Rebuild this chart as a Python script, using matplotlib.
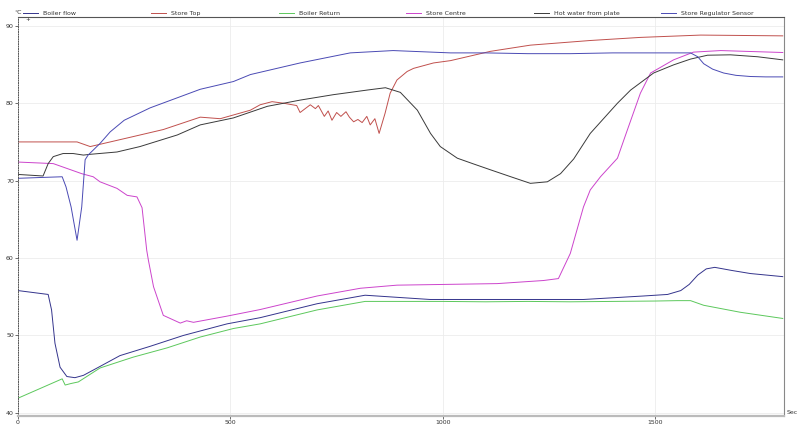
import matplotlib
matplotlib.use("Agg")
import matplotlib.pyplot as plt
from matplotlib.legend import Legend

# ---- data (x in seconds, y in deg C) ----
reg_x = [0, 50, 104, 113, 125, 139, 150, 158, 165, 193, 217, 250, 311, 370, 429,
         507, 547, 664, 782, 883, 1018, 1100, 1200, 1300, 1400, 1500, 1583, 1600,
         1614, 1635, 1661, 1690, 1724, 1760, 1800]
reg_y = [70.3, 70.4, 70.5, 69.2, 66.6, 62.3, 66.6, 72.7, 73.3, 74.8, 76.3, 77.8,
         79.4, 80.6, 81.8, 82.8, 83.7, 85.2, 86.5, 86.8, 86.5, 86.5, 86.4, 86.4,
         86.5, 86.5, 86.5, 86.0, 85.1, 84.4, 83.9, 83.6, 83.45, 83.4, 83.4]

top_x = [0, 139, 170, 272, 342, 429, 476, 547, 570, 598, 625, 656, 664, 688, 700,
         707, 721, 730, 739, 750, 760, 772, 780, 790, 800, 810, 821, 829, 840,
         850, 864, 876, 892, 916, 931, 978, 1018, 1112, 1206, 1347, 1465, 1607, 1800]
top_y = [75.0, 75.0, 74.4, 75.7, 76.6, 78.2, 78.0, 79.1, 79.8, 80.2, 80.0, 79.7,
         78.8, 79.8, 79.3, 79.7, 78.3, 79.0, 77.8, 78.8, 78.3, 78.9, 78.2, 77.6,
         77.9, 77.5, 78.3, 77.2, 78.0, 76.1, 78.7, 81.3, 83.0, 84.1, 84.5, 85.2,
         85.5, 86.7, 87.5, 88.1, 88.5, 88.8, 88.7]

ret_x = [0, 104, 111, 125, 142, 193, 271, 351, 429, 507, 570, 704, 817, 900, 1000,
         1100, 1200, 1300, 1400, 1500, 1552, 1583, 1614, 1700, 1800]
ret_y = [41.9, 44.4, 43.6, 43.8, 44.0, 45.8, 47.2, 48.4, 49.8, 50.9, 51.5, 53.3,
         54.4, 54.4, 54.4, 54.35, 54.4, 54.35, 54.4, 54.45, 54.5, 54.5, 53.9, 53.0,
         52.2]

flow_x = [0, 71, 79, 87, 99, 115, 134, 154, 193, 240, 311, 389, 492, 570, 704, 817,
          900, 970, 1100, 1331, 1472, 1529, 1560, 1580, 1600, 1620, 1640, 1680,
          1724, 1800]
flow_y = [55.8, 55.3, 53.3, 49.0, 45.9, 44.7, 44.55, 44.85, 46.0, 47.4, 48.6, 50.0,
          51.5, 52.3, 54.1, 55.2, 54.9, 54.65, 54.65, 54.65, 55.1, 55.3, 55.8, 56.6,
          57.8, 58.6, 58.8, 58.4, 58.0, 57.6]

ctr_x = [0, 83, 150, 177, 193, 233, 257, 280, 292, 303, 307, 319, 342, 382, 397,
         413, 492, 570, 704, 806, 892, 1128, 1237, 1272, 1300, 1331, 1347, 1371,
         1411, 1434, 1465, 1489, 1543, 1590, 1654, 1800]
ctr_y = [72.4, 72.2, 70.9, 70.5, 69.85, 69.0, 68.1, 67.9, 66.5, 61.0, 59.7, 56.3,
         52.6, 51.6, 51.9, 51.7, 52.5, 53.35, 55.1, 56.1, 56.5, 56.7, 57.1, 57.35,
         60.6, 66.6, 68.8, 70.5, 72.9, 76.5, 81.3, 83.9, 85.6, 86.6, 86.8, 86.55]

hot_x = [0, 59, 71, 83, 106, 130, 154, 170, 233, 287, 375, 429, 507, 587, 664, 742,
         822, 865, 900, 940, 971, 994, 1034, 1070, 1112, 1160, 1206, 1246, 1277,
         1308, 1347, 1411, 1442, 1496, 1543, 1583, 1623, 1677, 1741, 1800]
hot_y = [70.8, 70.6, 72.2, 73.1, 73.5, 73.5, 73.3, 73.4, 73.7, 74.4, 75.9, 77.2,
         78.1, 79.6, 80.4, 81.1, 81.7, 82.0, 81.4, 79.1, 76.1, 74.4, 72.9, 72.2,
         71.4, 70.5, 69.65, 69.85, 70.9, 72.8, 76.1, 80.0, 81.7, 83.9, 84.95, 85.7,
         86.2, 86.25, 86.0, 85.6]

labels = ["Boiler flow", "Store Top", "Boiler Return", "Store Centre",
          "Hot water from plate", "Store Regulator Sensor"]
x_ticks = [0, 500, 1000, 1500]
y_ticks = [40, 50, 60, 70, 80, 90]

series = [(flow_x, flow_y, "#34348c"), (top_x, top_y, "#c0504d"),
          (ret_x, ret_y, "#5cc85c"), (ctr_x, ctr_y, "#cc44cc"),
          (hot_x, hot_y, "#3a3a3a"), (reg_x, reg_y, "#4a4ab4")]

fig = plt.figure(figsize=(8, 4.28), dpi=100)
ax = fig.add_axes([18 / 800, 1 - 416 / 428, 766 / 800, 399.5 / 428])

lines = []
for (xs, ys, c), lab in zip(series, labels):
    ln, = ax.plot(xs, ys, color=c, lw=0.7, label=lab)
    lines.append(ln)

ax.set_xlim(0, 1803)
ax.set_ylim(39.6, 91.2)
ax.set_xticks(x_ticks)
ax.set_yticks(y_ticks)
ax.tick_params(labelsize=4.5, length=2, width=0.5, pad=1, colors="#333333")
ax.grid(True, color="#ececec", lw=0.6)
ax.set_axisbelow(True)

ax.spines["left"].set_linestyle((0, (1, 1.5)))
ax.spines["left"].set_color("#555555")
ax.spines["left"].set_linewidth(0.7)
ax.spines["bottom"].set_color("#bbbbbb")
ax.spines["bottom"].set_linewidth(1.6)
ax.spines["top"].set_color("#555555")
ax.spines["top"].set_linewidth(0.8)
ax.spines["right"].set_color("#888888")
ax.spines["right"].set_linewidth(0.8)

# individual legend entries placed along the top edge
leg_px = [22, 150, 278, 405, 533, 660]
for ln, lab, px in zip(lines, labels, leg_px):
    lg = Legend(ax, [ln], [lab], loc="lower left",
                bbox_to_anchor=((px - 18) / 766, 1.0), frameon=False,
                fontsize=4.5, handlelength=2.4, handletextpad=0.8,
                borderaxespad=0.1, borderpad=0.0)
    for t in lg.get_texts():
        t.set_color("#333333")
    ax.add_artist(lg)

fig.text(14 / 800, 1 - 13 / 428, "°C", fontsize=4.5, va="center", ha="left",
         color="#333333", zorder=10)
fig.text(25 / 800, 1 - 19.5 / 428, "+", fontsize=4, va="center", ha="left",
         color="#333333")
fig.text(787 / 800, 1 - 412 / 428, "Sec", fontsize=4.5, va="center", ha="left",
         color="#333333")

fig.savefig("out.png", dpi=100)
